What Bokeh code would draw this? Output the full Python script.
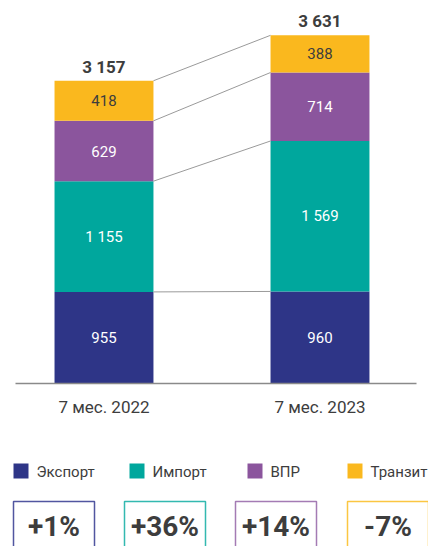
from bokeh.plotting import figure
from bokeh.models import ColumnDataSource, Range1d, FixedTicker
from bokeh.layouts import column
from bokeh.embed import file_html
from bokeh.resources import INLINE
from bokeh.core.properties import value
import numpy as np

# ---- data ----
periods = ["7 мес. 2022", "7 мес. 2023"]
series = ["Экспорт", "Импорт", "ВПР", "Транзит"]
export = [955, 960]
imports = [1155, 1569]
vpr = [629, 714]
transit = [418, 388]
changes = ["+1%", "+36%", "+14%", "-7%"]

colors = ["#2E3587", "#00A79D", "#8B559D", "#FAB81E"]
box_colors = ["#5156A0", "#33B9B0", "#A47BB4", "#FBC642"]
label_colors = ["#FFFFFF", "#FFFFFF", "#FFFFFF", "#3D3D3D"]
FONT = "Roboto"
TXT = "#3D3D3D"


def fmt(v):
    return f"{v:,}".replace(",", " ")


values = [export, imports, vpr, transit]
xs = [0, 1]
W = 0.458

# ---- main chart ----
p = figure(width=428, height=440,
           x_range=Range1d(-0.4097, 1.4468), y_range=Range1d(0, 3994),
           output_backend="svg", toolbar_location=None,
           min_border_left=15, min_border_right=12, min_border_top=0,
           min_border_bottom=57)

data = {"x": xs}
for s, v in zip(series, values):
    data[s] = v
src = ColumnDataSource(data)
p.vbar_stack(series, x="x", width=W, fill_color=colors, line_color=None,
             source=src)

cum = np.cumsum(np.array(values), axis=0)  # shape (4, 2)

# segment labels
lx, ly, lt, lc = [], [], [], []
for i in range(len(series)):
    for j in range(len(xs)):
        bottom = cum[i - 1][j] if i > 0 else 0
        top = cum[i][j]
        lx.append(xs[j])
        ly.append((bottom + top) / 2)
        lt.append(fmt(values[i][j]))
        lc.append(label_colors[i])
p.text(x=lx, y=ly, text=lt, text_color=lc, text_font=value(FONT),
       text_font_size="15px", text_align="center", text_baseline="middle")

# totals
totals = [int(t) for t in cum[-1]]
p.text(x=xs, y=totals, text=[fmt(t) for t in totals], text_color=TXT,
       text_font=value(FONT), text_font_size="17px", text_font_style="bold",
       text_align="center", text_baseline="alphabetic", y_offset=-14)

# connectors
p.segment(x0=[xs[0] + W / 2] * len(series), x1=[xs[1] - W / 2] * len(series),
          y0=list(cum[:, 0]), y1=list(cum[:, 1]),
          line_color="#9A9A9A", line_width=1)

p.xaxis.ticker = FixedTicker(ticks=xs)
p.xaxis.major_label_overrides = {x: lab for x, lab in zip(xs, periods)}
p.xaxis.major_label_text_font = FONT
p.xaxis.major_label_text_font_size = "17px"
p.xaxis.major_label_text_color = TXT
p.xaxis.major_tick_line_color = None
p.xaxis.minor_tick_line_color = None
p.xaxis.major_tick_out = 0
p.xaxis.major_label_standoff = 13
p.xaxis.axis_line_color = "#8A8A8A"
p.xaxis.axis_line_width = 1.5
p.yaxis.visible = False
p.xgrid.grid_line_color = None
p.ygrid.grid_line_color = None
p.outline_line_color = None

# ---- legend + change boxes (data coordinates equal page pixels) ----
q = figure(width=428, height=106, x_range=Range1d(15, 416),
           y_range=Range1d(546, 440), output_backend="svg",
           toolbar_location=None, min_border_left=15, min_border_right=12,
           min_border_top=0, min_border_bottom=0)
q.xaxis.visible = False
q.yaxis.visible = False
q.xgrid.grid_line_color = None
q.ygrid.grid_line_color = None
q.outline_line_color = None

sq_left = [13, 129, 247, 347]
q.rect(x=[l + 7.5 for l in sq_left], y=[470.5] * 4, width=15, height=15,
       fill_color=colors, line_color=None, level="overlay")
q.text(x=[l + 23 for l in sq_left], y=[471] * 4, text=series, text_color=TXT,
       text_font=value(FONT), text_font_size="15px", text_align="left",
       text_baseline="middle", level="overlay")

box_left = [13, 124, 235, 347]
BW = 81
q.quad(left=box_left, right=[l + BW for l in box_left],
       top=[501] * 4, bottom=[570] * 4, fill_color=None,
       line_color=box_colors, line_width=1.5, level="overlay")
q.text(x=[l + BW / 2 for l in box_left], y=[526] * 4, text=changes,
       text_color=TXT, text_font=value(FONT), text_font_size="28px",
       text_font_style="bold", text_align="center",
       text_baseline="middle", level="overlay")

layout = column(p, q, spacing=0)
open("out.html", "w").write(file_html(layout, INLINE))
